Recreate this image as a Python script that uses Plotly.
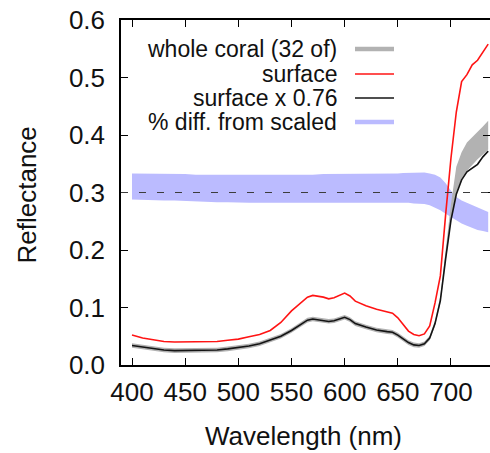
import plotly.graph_objects as go

# ---- data ----
wavelength = [400, 410, 420, 430, 440, 450, 460, 470, 480, 490, 500, 510, 520, 530, 540,
              550, 560, 565, 570, 580, 585, 590, 600, 605, 610, 620, 630, 640, 645, 650,
              655, 660, 665, 670, 675, 680, 685, 690, 695, 700, 705, 710, 715, 720, 725,
              730, 735]

surface = [0.052, 0.047, 0.044, 0.041, 0.040, 0.040, 0.040, 0.040, 0.041, 0.043, 0.045,
           0.049, 0.053, 0.060, 0.074, 0.094, 0.111, 0.118, 0.121, 0.118, 0.115, 0.117,
           0.125, 0.120, 0.111, 0.103, 0.097, 0.093, 0.090, 0.082, 0.071, 0.059, 0.053,
           0.051, 0.054, 0.068, 0.108, 0.155, 0.262, 0.360, 0.440, 0.493, 0.505, 0.522,
           0.530, 0.545, 0.558]

surface_scaled = [0.034, 0.031, 0.028, 0.026, 0.025, 0.025, 0.025, 0.025, 0.026, 0.028,
                  0.030, 0.033, 0.037, 0.043, 0.050, 0.060, 0.073, 0.078, 0.080, 0.077,
                  0.0757, 0.077, 0.083, 0.079, 0.072, 0.066, 0.061, 0.058, 0.057, 0.052,
                  0.046, 0.039, 0.035, 0.034, 0.037, 0.047, 0.072, 0.112, 0.185, 0.252,
                  0.297, 0.322, 0.336, 0.342, 0.349, 0.362, 0.372]

coral_low = [0.030, 0.027, 0.024, 0.022, 0.021, 0.021, 0.021, 0.021, 0.022, 0.024, 0.026,
             0.029, 0.033, 0.039, 0.046, 0.056, 0.069, 0.074, 0.076, 0.073, 0.072, 0.073,
             0.079, 0.075, 0.068, 0.062, 0.057, 0.054, 0.053, 0.048, 0.042, 0.035, 0.031,
             0.030, 0.033, 0.043, 0.068, 0.108, 0.180, 0.250, 0.300, 0.325, 0.338, 0.348,
             0.358, 0.366, 0.375]

coral_high = [0.038, 0.035, 0.032, 0.030, 0.029, 0.029, 0.029, 0.029, 0.030, 0.032, 0.034,
              0.037, 0.041, 0.047, 0.054, 0.064, 0.077, 0.082, 0.084, 0.081, 0.080, 0.081,
              0.087, 0.083, 0.076, 0.070, 0.065, 0.062, 0.061, 0.056, 0.050, 0.043, 0.039,
              0.038, 0.041, 0.051, 0.078, 0.120, 0.200, 0.280, 0.345, 0.370, 0.387, 0.396,
              0.405, 0.415, 0.425]

diff_low = [0.288, 0.287, 0.287, 0.286, 0.286, 0.285, 0.285, 0.284, 0.283, 0.283, 0.282,
            0.282, 0.282, 0.282, 0.282, 0.282, 0.282, 0.282, 0.282, 0.283, 0.283, 0.283,
            0.283, 0.283, 0.283, 0.283, 0.283, 0.283, 0.283, 0.283, 0.282, 0.282, 0.281,
            0.281, 0.280, 0.278, 0.274, 0.269, 0.263, 0.257, 0.251, 0.246, 0.242, 0.238,
            0.235, 0.233, 0.231]

diff_high = [0.333, 0.333, 0.333, 0.332, 0.332, 0.332, 0.331, 0.331, 0.330, 0.330, 0.330,
             0.330, 0.330, 0.330, 0.331, 0.331, 0.331, 0.331, 0.331, 0.332, 0.332, 0.332,
             0.332, 0.332, 0.332, 0.333, 0.333, 0.333, 0.333, 0.333, 0.334, 0.334, 0.335,
             0.335, 0.335, 0.333, 0.331, 0.326, 0.316, 0.303, 0.292, 0.286, 0.282, 0.278,
             0.274, 0.270, 0.266]

reference_level = 0.3
x_ticks = [400, 450, 500, 550, 600, 650, 700]
y_ticks = [0.0, 0.1, 0.2, 0.3, 0.4, 0.5, 0.6]
legend_labels = ["whole coral (32 of)", "surface", "surface x 0.76", "% diff. from scaled"]

# ---- styles ----
GRAY = "rgb(178,178,178)"
RED = "rgb(255,20,20)"
BLACK = "rgb(20,20,20)"
BLUE = "rgb(187,187,255)"
FONT = "Liberation Sans, Arial, Helvetica, sans-serif"

fig = go.Figure()

# % diff band
fig.add_trace(go.Scatter(x=wavelength, y=diff_low, mode="lines", line=dict(width=0, color=BLUE),
                         showlegend=False, hoverinfo="skip"))
fig.add_trace(go.Scatter(x=wavelength, y=diff_high, mode="lines", line=dict(width=0, color=BLUE),
                         fill="tonexty", fillcolor=BLUE, showlegend=False, hoverinfo="skip"))

# whole coral band
fig.add_trace(go.Scatter(x=wavelength, y=coral_low, mode="lines", line=dict(width=0, color=GRAY),
                         showlegend=False, hoverinfo="skip"))
fig.add_trace(go.Scatter(x=wavelength, y=coral_high, mode="lines", line=dict(width=0, color=GRAY),
                         fill="tonexty", fillcolor=GRAY, showlegend=False, hoverinfo="skip"))

fig.add_trace(go.Scatter(x=wavelength, y=surface, mode="lines", line=dict(width=1.6, color=RED),
                         showlegend=False))
fig.add_trace(go.Scatter(x=wavelength, y=surface_scaled, mode="lines",
                         line=dict(width=1.6, color=BLACK), showlegend=False))

# dashed reference line
fig.add_shape(type="line", xref="paper", yref="y", x0=0, x1=1, y0=reference_level,
              y1=reference_level, line=dict(color="rgb(60,60,60)", width=1.2, dash="7px,11px"),
              layer="above")

x_range = [389.65, 736.7]
axis_common = dict(ticks="inside", ticklen=7, tickwidth=1.4, tickcolor="black",
                   showgrid=False, zeroline=False, automargin=False,
                   tickfont=dict(family=FONT, size=26, color="#111"))

fig.update_layout(
    template="none",
    width=490, height=453,
    margin=dict(l=121, r=0, t=20, b=88, pad=0, autoexpand=False),
    plot_bgcolor="white", paper_bgcolor="white",
    showlegend=False,
    xaxis=dict(range=x_range, tickvals=x_ticks, showline=True, linecolor="black", linewidth=1.5,
               ticklabelstandoff=3, **axis_common),
    yaxis=dict(range=[0, 0.6], tickvals=y_ticks, tickformat=".1f", showline=True,
               linecolor="black", linewidth=1.5, ticklabelstandoff=9, **axis_common),
    xaxis2=dict(range=x_range, tickvals=x_ticks, overlaying="x", side="top", showline=True,
                linecolor="black", linewidth=1.5, showticklabels=False, **axis_common),
    yaxis2=dict(range=[0, 0.6], tickvals=y_ticks, overlaying="y", side="right",
                showline=False, showticklabels=False, **axis_common),
)
# empty trace to activate the mirrored axes
fig.add_trace(go.Scatter(x=[], y=[], xaxis="x2", yaxis="y2", showlegend=False))

# axis titles
fig.add_annotation(text="Wavelength (nm)", xref="paper", yref="paper", x=0.5, y=0,
                   yshift=-71, xshift=-2, showarrow=False, yanchor="middle",
                   font=dict(family=FONT, size=26, color="#111"))
fig.add_annotation(text="Reflectance", xref="paper", yref="paper", x=0, y=0.5,
                   xshift=-95, yshift=-3, showarrow=False, textangle=-90, xanchor="center",
                   font=dict(family=FONT, size=26, color="#111"))

# legend (text right-aligned, sample at right)
legend_colors = [GRAY, RED, BLACK, BLUE]
legend_widths = [4.5, 1.6, 1.6, 4.5]
legend_rows_px = [49, 74, 98, 122]
plot_h = 453 - 20 - 88
plot_w = 490 - 121
for lab, col, w, py in zip(legend_labels, legend_colors, legend_widths, legend_rows_px):
    yp = (365 - py) / plot_h
    fig.add_annotation(text=lab, xref="paper", yref="paper", x=(339 - 121) / plot_w, y=yp,
                       xanchor="right", yanchor="middle", showarrow=False,
                       font=dict(family=FONT, size=23, color="#111"))
    fig.add_shape(type="line", xref="paper", yref="paper", x0=(355 - 121) / plot_w,
                  x1=(394 - 121) / plot_w, y0=yp, y1=yp, line=dict(color=col, width=w))

fig.write_html("out.html", config={"displayModeBar": False},
               post_script="document.body.style.margin='0';document.body.style.overflow='hidden';")
